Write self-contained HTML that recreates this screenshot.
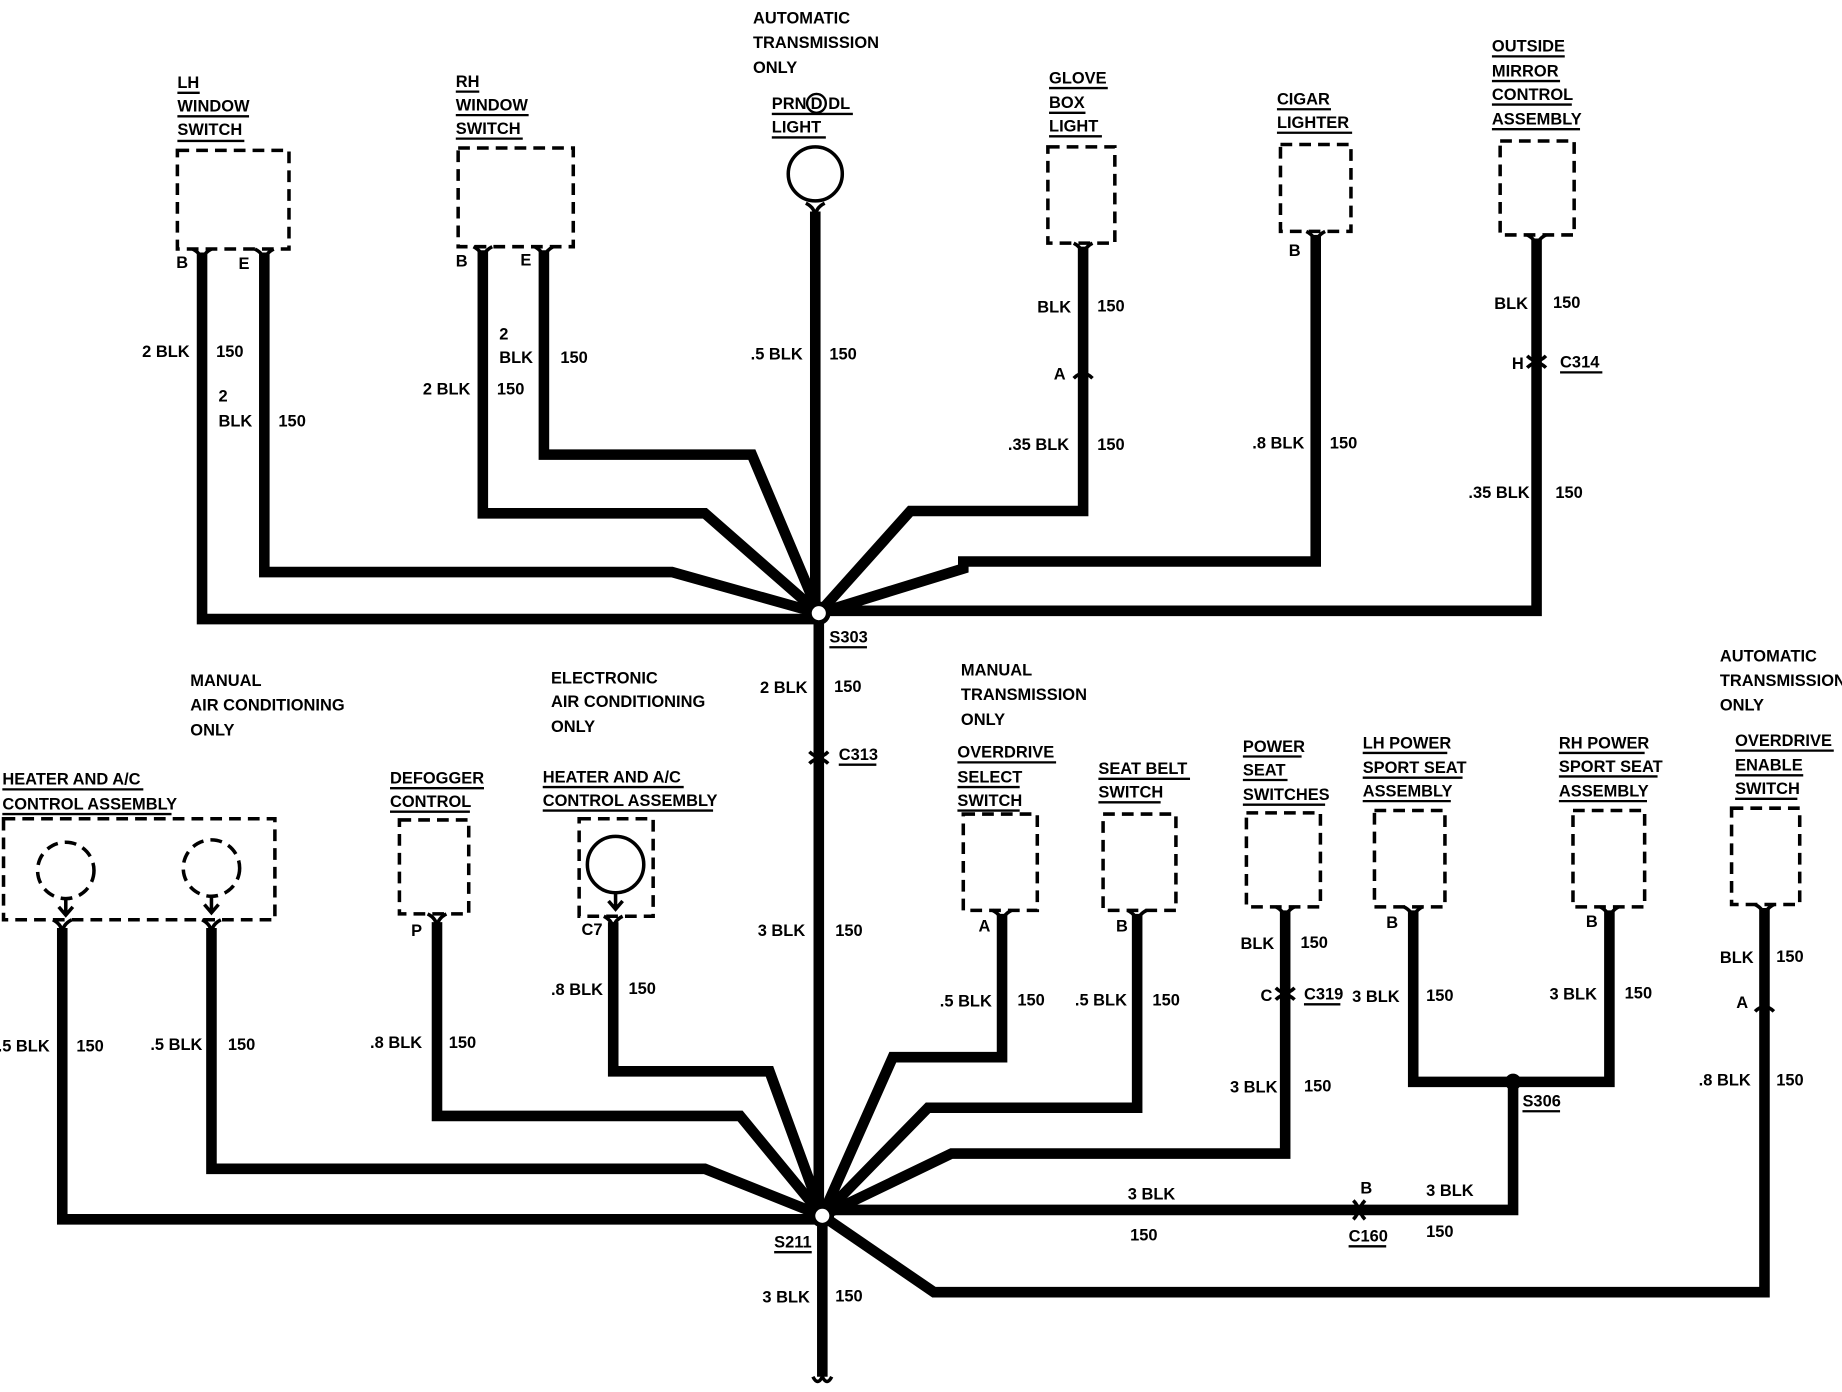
<!DOCTYPE html>
<html><head><meta charset="utf-8"><style>
html,body{margin:0;padding:0;background:#fff;}
svg{display:block}
text{font-family:"Liberation Sans",sans-serif;font-weight:bold;font-size:14px;fill:#000;}
.w{fill:none;stroke:#000;stroke-width:9;stroke-linejoin:miter;}
.b{fill:none;stroke:#000;stroke-width:3;stroke-dasharray:10 6;}
.u{stroke:#000;stroke-width:2;}
.c{fill:none;stroke:#000;stroke-width:3;}
</style></head><body>
<svg width="1842" height="1392" viewBox="0 0 1568 1185" preserveAspectRatio="none" xmlns="http://www.w3.org/2000/svg">
<!-- TOP WIRES -->
<path class="w" d="M172 215 V527 H697"/>
<path class="w" d="M225 215 V487 H572 L697 522"/>
<path class="w" d="M411 213 V437 H600 L697 522"/>
<path class="w" d="M463 213 V387 H640 L697 522"/>
<path class="w" d="M694 180 V522"/>
<path class="w" d="M922 210 V435 H775 L697 522"/>
<path class="w" d="M1120 200 V478 H820 V484 L697 522"/>
<path class="w" d="M1308 203 V520 H697"/>
<path class="w" d="M697 522 V1035"/>
<!-- BOTTOM WIRES -->
<path class="w" d="M53 790 V1038 H700"/>
<path class="w" d="M180 790 V995 H600 L700 1035"/>
<path class="w" d="M372 785 V950 H630 L700 1035"/>
<path class="w" d="M522 785 V912 H655 L700 1035"/>
<path class="w" d="M853 778 V900 H760 L700 1035"/>
<path class="w" d="M968 778 V943 H790 L700 1035"/>
<path class="w" d="M1094 775 V982 H810 L700 1035"/>
<path class="w" d="M1203 775 V921 H1370 V775"/>
<path class="w" d="M1288 921 V1030 H700"/>
<path class="w" d="M1502 773 V1100 H795 L700 1035"/>
<path class="w" d="M700 1035 V1172"/>
<path class="c" d="M692 1172 q4 8 8 0 q4 8 8 0"/>
<!-- splices -->
<circle cx="697" cy="522" r="8" fill="#fff" stroke="#000" stroke-width="4"/>
<circle cx="700" cy="1035" r="8" fill="#fff" stroke="#000" stroke-width="4"/>
<circle cx="1288" cy="921" r="7" fill="#000"/>
<!-- boxes top -->
<rect class="b" x="151" y="128" width="95" height="84"/>
<rect class="b" x="390" y="126" width="98" height="84"/>
<circle class="c" cx="694" cy="148" r="23"/>
<rect class="b" x="892" y="125" width="57" height="82"/>
<rect class="b" x="1090" y="123" width="60" height="74"/>
<rect class="b" x="1277" y="120" width="63" height="80"/>
<!-- boxes bottom -->
<rect class="b" x="3" y="697" width="231" height="86"/>
<circle class="b" cx="56" cy="741" r="24"/><circle class="b" cx="180" cy="739" r="24"/>
<path class="c" d="M56 765 V778 M50 772 L56 779 L62 772 M180 763 V776 M174 770 L180 777 L186 770"/>
<rect class="b" x="340" y="698" width="59" height="80"/>
<rect class="b" x="493" y="697" width="63" height="83"/>
<circle class="c" cx="524" cy="736" r="24"/>
<path class="c" d="M524 760 V773 M518 767 L524 774 L530 767"/>
<rect class="b" x="820" y="693" width="63" height="82"/>
<rect class="b" x="939" y="693" width="62" height="82"/>
<rect class="b" x="1061" y="692" width="63" height="80"/>
<rect class="b" x="1170" y="690" width="60" height="82"/>
<rect class="b" x="1339" y="690" width="61" height="82"/>
<rect class="b" x="1474" y="688" width="58" height="82"/>
<!-- pin connectors -->
<g class="c">
<path d="M164 212 q8 4 8 12 q0-8 8-12"/><path d="M217 212 q8 4 8 12 q0-8 8-12"/>
<path d="M403 210 q8 4 8 12 q0-8 8-12"/><path d="M455 210 q8 4 8 12 q0-8 8-12"/>
<path d="M686 173 q8 4 8 12 q0-8 8-12"/>
<path d="M914 207 q8 4 8 12 q0-8 8-12"/><path d="M1112 197 q8 4 8 12 q0-8 8-12"/>
<path d="M1300 200 q8 4 8 12 q0-8 8-12"/>
<path d="M45 783 q8 4 8 12 q0-8 8-12"/><path d="M172 783 q8 4 8 12 q0-8 8-12"/>
<path d="M364 778 q8 4 8 12 q0-8 8-12"/><path d="M514 780 q8 4 8 12 q0-8 8-12"/>
<path d="M845 775 q8 4 8 12 q0-8 8-12"/><path d="M960 775 q8 4 8 12 q0-8 8-12"/>
<path d="M1086 772 q8 4 8 12 q0-8 8-12"/><path d="M1195 772 q8 4 8 12 q0-8 8-12"/>
<path d="M1362 772 q8 4 8 12 q0-8 8-12"/><path d="M1494 770 q8 4 8 12 q0-8 8-12"/>
<!-- inline -->
<path d="M914 322 q8-8 16 0"/><path d="M1300 303 q8 8 16 0"/><path d="M1300 313 q8-8 16 0"/>
<path d="M689 640 q8 8 16 0"/><path d="M689 650 q8-8 16 0"/>
<path d="M1086 841 q8 8 16 0"/><path d="M1086 851 q8-8 16 0"/>
<path d="M1494 861 q8-8 16 0"/>
<path d="M1162 1022 q-8 8 0 16"/><path d="M1152 1022 q8 8 0 16"/>
</g>
<!-- TOP LABELS -->
<text x="151" y="75">LH</text><text x="151" y="95">WINDOW</text><text x="151" y="115">SWITCH</text>
<line class="u" x1="151" y1="79" x2="170" y2="79"/><line class="u" x1="151" y1="99" x2="212" y2="99"/><line class="u" x1="151" y1="120" x2="208" y2="120"/>
<text x="388" y="74">RH</text><text x="388" y="94">WINDOW</text><text x="388" y="114">SWITCH</text>
<line class="u" x1="388" y1="78" x2="408" y2="78"/><line class="u" x1="388" y1="98" x2="450" y2="98"/><line class="u" x1="388" y1="118" x2="445" y2="118"/>
<text x="641" y="20">AUTOMATIC</text><text x="641" y="41">TRANSMISSION</text><text x="641" y="62">ONLY</text>
<text x="657" y="93">PRN</text><circle cx="695" cy="88" r="8" fill="none" stroke="#000" stroke-width="2"/><text x="690" y="93">D</text><text x="705" y="93">DL</text>
<text x="657" y="113">LIGHT</text>
<line class="u" x1="657" y1="97" x2="726" y2="97"/><line class="u" x1="657" y1="117" x2="703" y2="117"/>
<text x="893" y="71">GLOVE</text><text x="893" y="92">BOX</text><text x="893" y="112">LIGHT</text>
<line class="u" x1="893" y1="75" x2="943" y2="75"/><line class="u" x1="893" y1="96" x2="924" y2="96"/><line class="u" x1="893" y1="116" x2="938" y2="116"/>
<text x="1087" y="89">CIGAR</text><text x="1087" y="109">LIGHTER</text>
<line class="u" x1="1087" y1="93" x2="1133" y2="93"/><line class="u" x1="1087" y1="113" x2="1151" y2="113"/>
<text x="1270" y="44">OUTSIDE</text><text x="1270" y="65">MIRROR</text><text x="1270" y="85">CONTROL</text><text x="1270" y="106">ASSEMBLY</text>
<line class="u" x1="1270" y1="48" x2="1332" y2="48"/><line class="u" x1="1270" y1="69" x2="1328" y2="69"/><line class="u" x1="1270" y1="89" x2="1338" y2="89"/><line class="u" x1="1270" y1="110" x2="1345" y2="110"/>
<text x="150" y="228">B</text><text x="203" y="229">E</text><text x="388" y="227">B</text><text x="443" y="226">E</text>
<text x="121" y="304">2 BLK</text><text x="184" y="304">150</text>
<text x="186" y="342">2</text><text x="186" y="363">BLK</text><text x="237" y="363">150</text>
<text x="360" y="336">2 BLK</text><text x="423" y="336">150</text>
<text x="425" y="289">2</text><text x="425" y="309">BLK</text><text x="477" y="309">150</text>
<text x="639" y="306">.5 BLK</text><text x="706" y="306">150</text>
<text x="883" y="266">BLK</text><text x="934" y="265">150</text>
<text x="897" y="323">A</text>
<text x="858" y="383">.35 BLK</text><text x="934" y="383">150</text>
<text x="1097" y="218">B</text>
<text x="1066" y="382">.8 BLK</text><text x="1132" y="382">150</text>
<text x="1272" y="263">BLK</text><text x="1322" y="262">150</text>
<text x="1287" y="314">H</text><text x="1328" y="313">C314</text><line class="u" x1="1328" y1="317" x2="1364" y2="317"/>
<text x="1250" y="424">.35 BLK</text><text x="1324" y="424">150</text>
<text x="706" y="547">S303</text><line class="u" x1="706" y1="551" x2="738" y2="551"/>
<text x="647" y="590">2 BLK</text><text x="710" y="589">150</text>
<text x="714" y="647">C313</text><line class="u" x1="714" y1="651" x2="746" y2="651"/>
<text x="645" y="797">3 BLK</text><text x="711" y="797">150</text>
<!-- BOTTOM LABELS -->
<text x="162" y="584">MANUAL</text><text x="162" y="605">AIR CONDITIONING</text><text x="162" y="626">ONLY</text>
<text x="469" y="582">ELECTRONIC</text><text x="469" y="602">AIR CONDITIONING</text><text x="469" y="623">ONLY</text>
<text x="818" y="575">MANUAL</text><text x="818" y="596">TRANSMISSION</text><text x="818" y="617">ONLY</text>
<text x="1464" y="563">AUTOMATIC</text><text x="1464" y="584">TRANSMISSION</text><text x="1464" y="605">ONLY</text>
<text x="2" y="668">HEATER AND A/C</text><text x="2" y="689">CONTROL ASSEMBLY</text>
<line class="u" x1="2" y1="672" x2="122" y2="672"/><line class="u" x1="2" y1="693" x2="146" y2="693"/>
<text x="332" y="667">DEFOGGER</text><text x="332" y="687">CONTROL</text>
<line class="u" x1="332" y1="671" x2="412" y2="671"/><line class="u" x1="332" y1="691" x2="400" y2="691"/>
<text x="462" y="666">HEATER AND A/C</text><text x="462" y="686">CONTROL ASSEMBLY</text>
<line class="u" x1="462" y1="670" x2="582" y2="670"/><line class="u" x1="462" y1="690" x2="607" y2="690"/>
<text x="815" y="645">OVERDRIVE</text><text x="815" y="666">SELECT</text><text x="815" y="686">SWITCH</text>
<line class="u" x1="815" y1="649" x2="899" y2="649"/><line class="u" x1="815" y1="670" x2="868" y2="670"/><line class="u" x1="815" y1="690" x2="868" y2="690"/>
<text x="935" y="659">SEAT BELT</text><text x="935" y="679">SWITCH</text>
<line class="u" x1="935" y1="663" x2="1013" y2="663"/><line class="u" x1="935" y1="683" x2="988" y2="683"/>
<text x="1058" y="640">POWER</text><text x="1058" y="660">SEAT</text><text x="1058" y="681">SWITCHES</text>
<line class="u" x1="1058" y1="644" x2="1108" y2="644"/><line class="u" x1="1058" y1="664" x2="1096" y2="664"/><line class="u" x1="1058" y1="685" x2="1128" y2="685"/>
<text x="1160" y="637">LH POWER</text><text x="1160" y="658">SPORT SEAT</text><text x="1160" y="678">ASSEMBLY</text>
<line class="u" x1="1160" y1="641" x2="1232" y2="641"/><line class="u" x1="1160" y1="662" x2="1245" y2="662"/><line class="u" x1="1160" y1="682" x2="1235" y2="682"/>
<text x="1327" y="637">RH POWER</text><text x="1327" y="657">SPORT SEAT</text><text x="1327" y="678">ASSEMBLY</text>
<line class="u" x1="1327" y1="641" x2="1400" y2="641"/><line class="u" x1="1327" y1="661" x2="1411" y2="661"/><line class="u" x1="1327" y1="682" x2="1402" y2="682"/>
<text x="1477" y="635">OVERDRIVE</text><text x="1477" y="656">ENABLE</text><text x="1477" y="676">SWITCH</text>
<line class="u" x1="1477" y1="639" x2="1561" y2="639"/><line class="u" x1="1477" y1="660" x2="1535" y2="660"/><line class="u" x1="1477" y1="680" x2="1530" y2="680"/>
<text x="350" y="797">P</text><text x="495" y="796">C7</text><text x="833" y="793">A</text><text x="950" y="793">B</text>
<text x="1180" y="790">B</text><text x="1350" y="789">B</text>
<text x="-2" y="895">.5 BLK</text><text x="65" y="895">150</text>
<text x="128" y="894">.5 BLK</text><text x="194" y="894">150</text>
<text x="315" y="892">.8 BLK</text><text x="382" y="892">150</text>
<text x="469" y="847">.8 BLK</text><text x="535" y="846">150</text>
<text x="800" y="857">.5 BLK</text><text x="866" y="856">150</text>
<text x="915" y="856">.5 BLK</text><text x="981" y="856">150</text>
<text x="1056" y="808">BLK</text><text x="1107" y="807">150</text>
<text x="1073" y="852">C</text><text x="1110" y="851">C319</text><line class="u" x1="1110" y1="855" x2="1141" y2="855"/>
<text x="1151" y="853">3 BLK</text><text x="1214" y="852">150</text>
<text x="1047" y="930">3 BLK</text><text x="1110" y="929">150</text>
<text x="1319" y="851">3 BLK</text><text x="1383" y="850">150</text>
<text x="1296" y="942">S306</text><line class="u" x1="1296" y1="946" x2="1328" y2="946"/>
<text x="1464" y="820">BLK</text><text x="1512" y="819">150</text>
<text x="1478" y="858">A</text>
<text x="1446" y="924">.8 BLK</text><text x="1512" y="924">150</text>
<text x="960" y="1021">3 BLK</text><text x="962" y="1056">150</text>
<text x="1158" y="1016">B</text><text x="1148" y="1057">C160</text><line class="u" x1="1148" y1="1061" x2="1180" y2="1061"/>
<text x="1214" y="1018">3 BLK</text><text x="1214" y="1053">150</text>
<text x="659" y="1062">S211</text><line class="u" x1="659" y1="1066" x2="691" y2="1066"/>
<text x="649" y="1109">3 BLK</text><text x="711" y="1108">150</text>
</svg>
</body></html>
